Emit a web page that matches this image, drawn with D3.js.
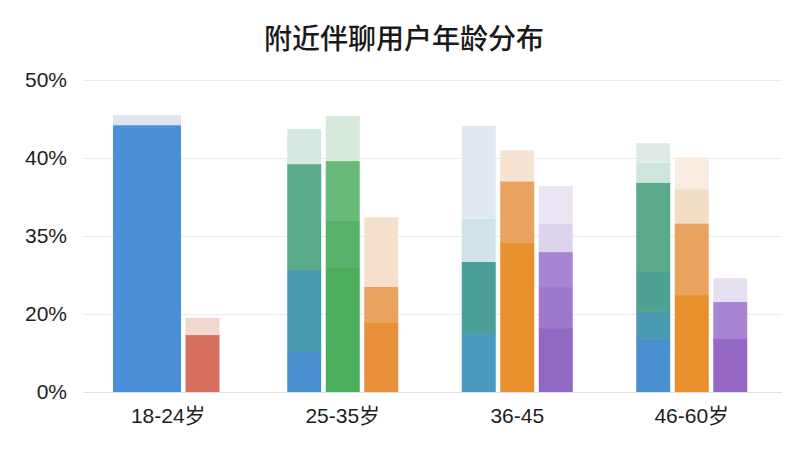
<!DOCTYPE html>
<html>
<head>
<meta charset="utf-8">
<script src="https://cdn.jsdelivr.net/npm/d3@7"></script>
<style>
  html, body { margin: 0; padding: 0; background: #fff; }
  svg { display: block; }
</style>
</head>
<body>
<svg id="chart" width="800" height="450"></svg>
<script>
// ---------------- data ----------------
const title = "附近伴聊用户年龄分布";
const categories = ["18-24岁", "25-35岁", "36-45", "46-60岁"];
const yTickValues = [0, 20, 35, 40, 50];
const yTickLabels = ["0%", "20%", "35%", "40%", "50%"];

// solid bar: cumulative tops (%) of stacked shade segments, bottom -> top
const barTops = [
  [[44.2], [14.6]],
  [[10.3, 28.5, 39.6], [29.0, 36.0, 39.8], [17.9, 25.2]],
  [[15.1, 30.0], [33.7, 38.5], [16.4, 25.2, 31.9]],
  [[13.8, 20.5, 28.1, 38.4], [23.7, 35.8], [13.8, 22.3]]
];
// pale "ghost" extension above each bar: cumulative tops (%)
const ghostTops = [
  [[45.5], [19.0]],
  [[43.7], [45.4], [36.2]],
  [[36.1, 44.1], [41.0], [35.8, 38.2]],
  [[39.7, 41.9], [38.0, 40.1], [26.9]]
];

// ---------------- styles ----------------
const barColors = [
  [["#4a8fd8"], ["#d9705f"]],
  [["#4a90d0", "#4a9bb0", "#5aaa8c"], ["#4caf5e", "#55b26a", "#68ba7a"], ["#e8913a", "#e9a35f"]],
  [["#4a9ac0", "#4aa098"], ["#e8902e", "#e9a35f"], ["#9168c4", "#9d78cc", "#a785d4"]],
  [["#4a90d0", "#4a9ab4", "#4fa292", "#5aa98a"], ["#e8902e", "#e9a35f"], ["#9468c4", "#a884d2"]]
];
const ghostColors = [
  [["#dfe5ec"], ["#f2d7d0"]],
  [["#d5e8e2"], ["#d5eadb"], ["#f6e0cc"]],
  [["#d2e3e8", "#e0e9ef"], ["#f6e3d2"], ["#ddd3ec", "#ebe5f3"]],
  [["#cfe4dc", "#dfeae6"], ["#f1dcc6", "#f8ebdf"], ["#e6e0f0"]]
];
const barSpans = [[2, 1], [1, 1, 1], [1, 1, 1], [1, 1, 1]];

// ---------------- layout ----------------
const W = 800, H = 450;
const plotTop = 80, plotBottom = 392;
const gridLeft = 83, gridRight = 782;
const barW = 34, barGap = 4.5;

const svg = d3.select("#chart");
const fontLatin = "'Liberation Sans', Arial, 'Noto Sans CJK SC', sans-serif";

const x = d3.scaleBand().domain(categories).range([81, 779]).paddingInner(0).paddingOuter(0);
const yRange = yTickValues.map((d, i) => plotBottom - i * (plotBottom - plotTop) / (yTickValues.length - 1));
const y = d3.scaleLinear().domain(yTickValues).range(yRange);

// title
svg.append("text")
  .attr("x", 404).attr("y", 37)
  .attr("text-anchor", "middle")
  .attr("dominant-baseline", "central")
  .attr("font-family", "'Noto Sans CJK SC', sans-serif")
  .attr("font-size", 28)
  .attr("font-weight", 500)
  .attr("fill", "#1a1a1a")
  .text(title);

// gridlines
svg.append("g").selectAll("line")
  .data(yTickValues)
  .join("line")
  .attr("x1", gridLeft).attr("x2", gridRight)
  .attr("y1", d => Math.round(y(d)) + 0.5).attr("y2", d => Math.round(y(d)) + 0.5)
  .attr("stroke", (d, i) => i === 0 ? "#e2e2e2" : "#ececec")
  .attr("stroke-width", 1);

// y axis labels
const yAxis = d3.axisLeft(y).tickValues(yTickValues).tickFormat((d, i) => yTickLabels[i]).tickSize(0).tickPadding(0);
const gy = svg.append("g").attr("transform", "translate(67,0)").call(yAxis);
gy.select(".domain").remove();
gy.selectAll("text")
  .attr("font-family", fontLatin)
  .attr("font-size", 21)
  .attr("fill", "#1e1e1e");

// x axis labels
const xAxis = d3.axisBottom(x).tickSize(0).tickPadding(0);
const gx = svg.append("g").attr("transform", `translate(0,${plotBottom})`).call(xAxis);
gx.select(".domain").remove();
gx.selectAll("text")
  .attr("y", 31)
  .attr("dy", 0)
  .attr("font-family", fontLatin)
  .attr("font-size", 21)
  .attr("fill", "#1e1e1e");

// bars
const barsG = svg.append("g");
categories.forEach((cat, gi) => {
  const spans = barSpans[gi];
  const widths = spans.map(s => s * barW);
  const total = d3.sum(widths) + barGap * (spans.length - 1);
  const center = x(cat) + x.bandwidth() / 2 - (gi === 0 ? 2 : 0);
  let cx = center - total / 2;
  spans.forEach((s, bi) => {
    const bw = widths[bi];
    const tops = barTops[gi][bi];
    const gTops = ghostTops[gi][bi];
    // ghost segments
    let prev = tops[tops.length - 1];
    gTops.forEach((t, k) => {
      barsG.append("rect")
        .attr("x", cx).attr("width", bw)
        .attr("y", y(t)).attr("height", y(prev) - y(t))
        .attr("fill", ghostColors[gi][bi][k]);
      prev = t;
    });
    // solid segments
    prev = 0;
    tops.forEach((t, k) => {
      barsG.append("rect")
        .attr("x", cx).attr("width", bw)
        .attr("y", y(t)).attr("height", y(prev) - y(t) + (k === 0 ? 0 : 0.5))
        .attr("fill", barColors[gi][bi][k]);
      prev = t;
    });
    cx += bw + barGap;
  });
});
</script>
</body>
</html>
